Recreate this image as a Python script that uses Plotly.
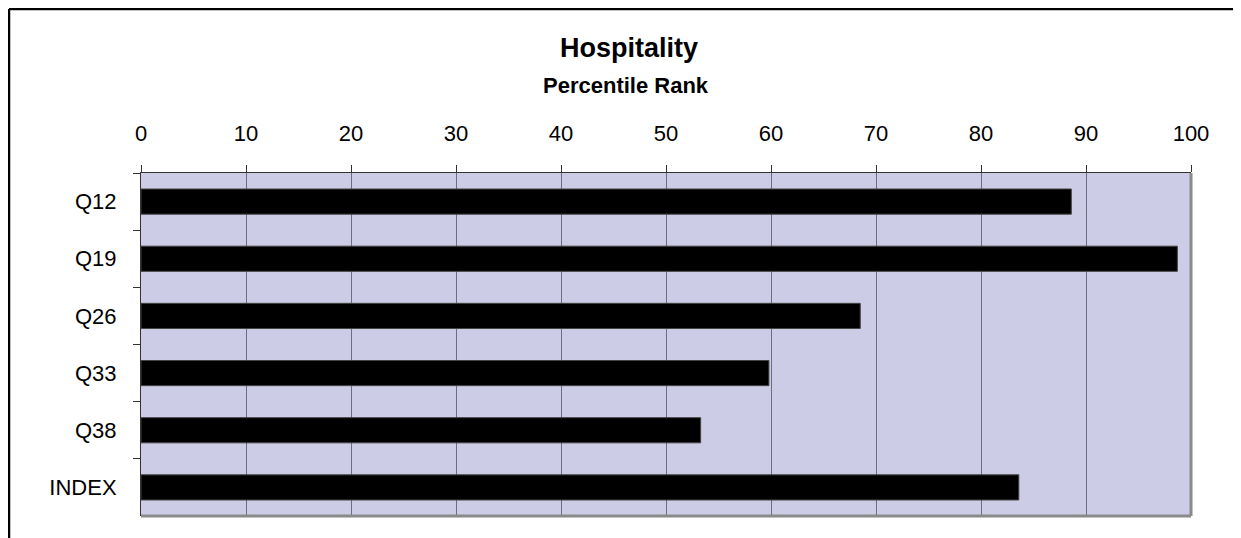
import plotly.graph_objects as go

# data
questions = ["Q12", "Q19", "Q26", "Q33", "Q38", "INDEX"]
percentile = [88.6, 98.7, 68.5, 59.8, 53.3, 83.6]
x_ticks = list(range(0, 101, 10))

# the page body has an 8px margin, so the figure sits at (8, 8)
OFF = 8
W, H = 1241 - OFF, 538 - OFF
L, T = 141 - OFF, 173 - OFF
pw, ph = 1050, 343
R, B = W - L - pw, H - T - ph


def px_x(px):
    # page pixel -> paper x
    return (px - OFF - L) / pw


def px_y(py):
    # page pixel -> paper y
    return 1 - (py - OFF - T) / ph


fig = go.Figure(go.Bar(
    x=percentile, y=questions, orientation="h",
    marker=dict(color="#000000", line=dict(color="#444444", width=1)),
    width=0.44,
))

fig.update_layout(
    width=W, height=H,
    margin=dict(l=L, r=R, t=T, b=B),
    paper_bgcolor="white",
    plot_bgcolor="#CCCCE6",
    showlegend=False,
    font=dict(family="Liberation Sans, Arial", color="black"),
    xaxis=dict(
        side="top", range=[0, 100], tickvals=x_ticks,
        showgrid=True, gridcolor="#6E6E80", gridwidth=1,
        ticks="outside", ticklen=7, tickcolor="#333333",
        showline=True, linecolor="#333333", linewidth=1,
        tickfont=dict(size=22), ticklabelstandoff=15,
        zeroline=False, fixedrange=True,
    ),
    yaxis=dict(
        autorange="reversed", tickson="boundaries",
        ticks="outside", ticklen=7, tickcolor="#333333",
        showline=True, linecolor="#333333", linewidth=1,
        showgrid=False, tickfont=dict(size=22), ticklabelstandoff=19,
    ),
    annotations=[
        dict(text="<b>Hospitality</b>", x=px_x(629), y=px_y(48), xref="paper", yref="paper",
             showarrow=False, font=dict(size=27), xanchor="center", yanchor="middle"),
        dict(text="<b>Percentile Rank</b>", x=px_x(626), y=px_y(86), xref="paper", yref="paper",
             showarrow=False, font=dict(size=22), xanchor="center", yanchor="middle"),
    ],
    shapes=[
        # gray shadow on right and bottom of plot area
        dict(type="line", xref="paper", yref="paper", x0=1, x1=1, y0=0, y1=1,
             line=dict(color="#8A8A8A", width=3)),
        dict(type="line", xref="paper", yref="paper", x0=0, x1=1, y0=0, y1=0,
             line=dict(color="#8A8A8A", width=3)),
        # outer chart border (top and left visible)
        dict(type="line", xref="paper", yref="paper", x0=px_x(9), x1=px_x(1260),
             y0=px_y(9), y1=px_y(9), line=dict(color="black", width=2.5)),
        dict(type="line", xref="paper", yref="paper", x0=px_x(9), x1=px_x(9),
             y0=px_y(9), y1=px_y(560), line=dict(color="black", width=2.5)),
    ],
)

fig.write_html("out.html")
